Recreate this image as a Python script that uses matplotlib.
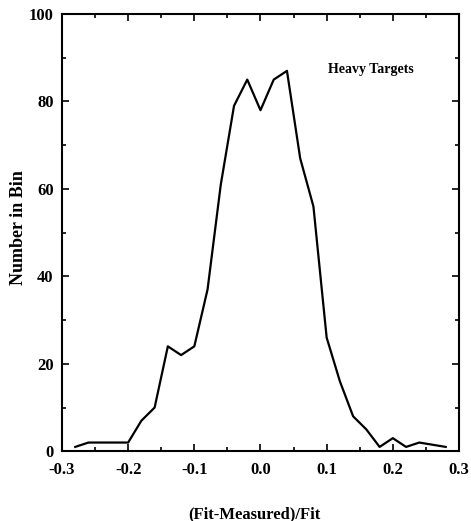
import matplotlib
matplotlib.use("Agg")
import matplotlib.pyplot as plt
from matplotlib.ticker import MultipleLocator

x_vals = [-0.28, -0.26, -0.24, -0.22, -0.20, -0.18, -0.16, -0.14, -0.12, -0.10,
          -0.08, -0.06, -0.04, -0.02, 0.00, 0.02, 0.04, 0.06, 0.08, 0.10,
          0.12, 0.14, 0.16, 0.18, 0.20, 0.22, 0.24, 0.26, 0.28]
counts = [1, 2, 2, 2, 2, 7, 10, 24, 22, 24,
          37, 61, 79, 85, 78, 85, 87, 67, 56, 26,
          16, 8, 5, 1, 3, 1, 2, 1.5, 1]
x_ticks = [-0.3, -0.2, -0.1, 0.0, 0.1, 0.2, 0.3]
x_tick_labels = ["-0.3", "-0.2", "-0.1", "0.0", "0.1", "0.2", "0.3"]
y_ticks = [0, 20, 40, 60, 80, 100]

plt.rcParams['font.family'] = ['Liberation Serif', 'DejaVu Serif']

fig = plt.figure(figsize=(4.71, 5.21), dpi=100)
ax = fig.add_axes([0.1316, 0.1338, 0.8429, 0.8393])
ax.plot(x_vals, counts, color='black', lw=1.6)
ax.set_xlim(-0.3, 0.3)
ax.set_ylim(0, 100)
ax.set_xticks(x_ticks)
ax.set_xticklabels(x_tick_labels)
ax.set_yticks(y_ticks)
ax.xaxis.set_minor_locator(MultipleLocator(0.05))
ax.yaxis.set_minor_locator(MultipleLocator(10))
ax.tick_params(which='both', direction='in', top=True, right=True, labelsize=12, width=1.2)
ax.tick_params(which='major', length=5)
ax.tick_params(axis='x', which='major', pad=8)
ax.tick_params(axis='y', which='major', pad=6)
ax.tick_params(which='minor', length=3)
for s in ax.spines.values():
    s.set_linewidth(1.5)
for lab in ax.get_xticklabels() + ax.get_yticklabels():
    lab.set_fontweight('bold')
fig.text(0.040, 0.564, "Number in Bin", fontsize=13, fontweight='bold',
         rotation=90, ha='center', va='center')
fig.text(0.541, 0.0134, "(Fit-Measured)/Fit", fontsize=12, fontweight='bold',
         ha='center', va='center')
ax.text(0.102, 87.3, "Heavy Targets", fontsize=10, fontweight='bold', ha='left', va='center')
fig.savefig("out.png", dpi=100)
